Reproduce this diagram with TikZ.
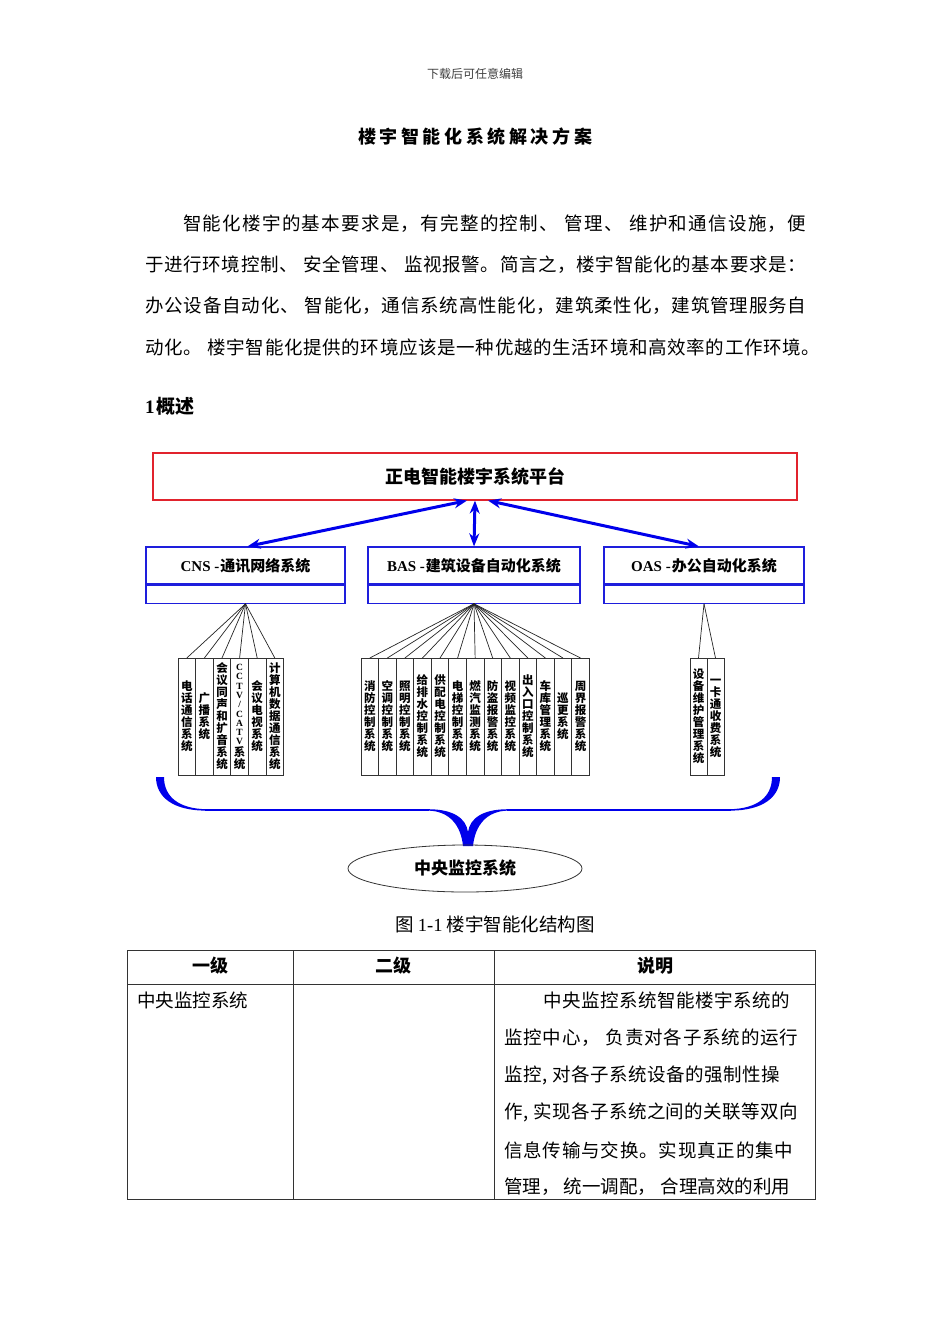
\documentclass[tikz,border=0pt]{standalone}
\usepackage{fontspec}
\setmainfont{Noto Sans CJK SC}
\newfontfamily\lat{Liberation Serif}
\usetikzlibrary{arrows.meta, positioning, shapes.geometric}

\definecolor{platred}{RGB}{225,35,45}
\definecolor{sysblue}{RGB}{30,30,220}
\definecolor{braceblue}{RGB}{0,0,235}

\newdimen\vpitch \vpitch=12pt
\ExplSyntaxOn
% characters of #2 one under the other
\NewDocumentCommand\vchars{O{}m}
  {
    \exp_args:No \tl_map_inline:nn {#2}
      {
        \hbox_to_wd:nn {12pt}
          { \hss #1 \vrule width 0pt height .85\vpitch depth .15\vpitch \relax ##1 \hss }
      }
  }
% one line of text spread to the width #1
\NewDocumentCommand\spread{mm}
  { \hbox_to_wd:nn {#1} { \tl_map_inline:nn {#2} { ##1 \hfil } \unskip } }
\ExplSyntaxOff

\begin{document}
\begin{tikzpicture}[
    x=1pt, y=-1pt,
    every node/.style={inner sep=0pt},
    body/.style={font=\fontsize{18.5}{18.5}\selectfont},
    sysbox/.style={draw=sysblue, line width=1.2pt, minimum width=199, font=\fontsize{15}{15}\selectfont\bfseries},
    colbox/.style={draw=black!80, line width=.8pt, outer sep=0pt, minimum width=17.6, minimum height=117,
                   font=\fontsize{11.5}{12}\selectfont\bfseries},
    fan/.style={draw=black!85, line width=.7pt},
    link/.style={draw=braceblue, line width=3pt, <->, >={Stealth[length=13pt,width=10pt]}},
    tabline/.style={draw=black!80, line width=.9pt}
]
   \fill[white] (0,0) rectangle (950,1344);
   \useasboundingbox (0,0) rectangle (950,1344);

   % page head and title
   \node[font=\fontsize{12}{12}\selectfont, text=black!75] (head) at (475,74) {下载后可任意编辑};
   \node[font=\fontsize{18}{18}\selectfont\bfseries] (title) at (475,137) {\spread{234pt}{楼宇智能化系统解决方案}};

   % paragraph
   \node[body, anchor=west] (l1) at (183,224) {\spread{623pt}{智能化楼宇的基本要求是，有完整的控制、~管理、~维护和通信设施，便}};
   \node[body, anchor=west] (l2) at (145,265) {\spread{661pt}{于进行环境控制、~安全管理、~监视报警。简言之，楼宇智能化的基本要求是：}};
   \node[body, anchor=west] (l3) at (145,306) {\spread{661pt}{办公设备自动化、~智能化，通信系统高性能化，建筑柔性化，建筑管理服务自}};
   \node[body, anchor=west] (l4) at (145,347) {\spread{675pt}{动化。~楼宇智能化提供的环境应该是一种优越的生活环境和高效率的工作环境。}};
   \node[font=\fontsize{19}{19}\selectfont\bfseries, anchor=west] (sec) at (145,406) {{\lat 1}\kern2pt概述};

   % platform and subsystems
   \node[draw=platred, line width=1.2pt, minimum width=644, minimum height=47,
         font=\fontsize{18}{18}\selectfont\bfseries] (plat) at (475,476.5) {正电智能楼宇系统平台};

   \node[sysbox, minimum height=37] (cns) at (245.5,565.5) {{\lat CNS -}\kern1pt通讯网络系统};
   \node[sysbox, minimum height=18, below=0pt of cns] (cnsb) {};
   \node[sysbox, minimum width=212, minimum height=37] (bas) at (474,565.5) {{\lat BAS -}\kern1pt建筑设备自动化系统};
   \node[sysbox, minimum width=212, minimum height=18, below=0pt of bas] (basb) {};
   \node[sysbox, minimum width=200, minimum height=37] (oas) at (704,565.5) {{\lat OAS -}\kern1pt办公自动化系统};
   \node[sysbox, minimum width=200, minimum height=18, below=0pt of oas] (oasb) {};

   \draw[link] ([xshift=-8]plat.south) -- ([xshift=2]cns.north);
   \draw[link] (plat.south) -- (bas.north);
   \draw[link] ([xshift=13]plat.south) -- ([xshift=-5]oas.north);

   % CNS columns
   \node[colbox] (c1) at (186.8,716.5) {\vbox{\offinterlineskip\vchars{电话通信系统}}};
   \node[colbox, right=0pt of c1] (c2) {\vbox{\offinterlineskip\vchars{广播系统}}};
   \node[colbox, right=0pt of c2] (c3) {\vbox{\offinterlineskip\vchars{会议同声和扩音系统}}};
   \node[colbox, right=0pt of c3] (c4) {\vbox{\offinterlineskip\vpitch=9.3pt\vchars[\lat\fontsize{9.5}{9.5}\selectfont]{CCTV/CATV}\vpitch=12pt\vchars{系统}}};
   \node[colbox, right=0pt of c4] (c5) {\vbox{\offinterlineskip\vchars{会议电视系统}}};
   \node[colbox, right=0pt of c5] (c6) {\vbox{\offinterlineskip\vchars{计算机数据通信系统}}};
   \foreach \i in {1,...,6}
      \draw[fan] (cnsb.south) -- (c\i.north);

   % BAS columns
   \foreach \t [count=\i] in {消防控制系统,空调控制系统,照明控制系统,给排水控制系统,供配电控制系统,
         电梯控制系统,燃汽监测系统,防盗报警系统,视频监控系统,出入口控制系统,车库管理系统,巡更系统,周界报警系统}
   {
      \node[colbox] (b\i) at ({369.8+17.56*(\i-1)},716.5) {\vbox{\offinterlineskip\vchars{\t}}};
      \draw[fan] (basb.south) -- (b\i.north);
   }

   % OAS columns
   \node[colbox, minimum width=17] (o1) at (698.5,716.5) {\vbox{\offinterlineskip\vchars{设备维护管理系统}}};
   \node[colbox, minimum width=17, right=0pt of o1] (o2) {\vbox{\offinterlineskip\vchars{一卡通收费系统}}};
   \draw[fan] (oasb.south) -- (o1.north);
   \draw[fan] (oasb.south) -- (o2.north);

   % brace, drawn as two mirrored halves
   \foreach \s in {1,-1}
   {
      \begin{scope}[shift={(468,0)}, xscale=\s]
         \fill[braceblue] (-312,777) .. controls (-312,797) and (-295,810.6) .. (-262,810.6)
            -- (-262,809.2) .. controls (-289,808.6) and (-304,797) .. (-304,777) -- cycle;
         \draw[braceblue, line width=1.3pt] (-263,809.9) -- (-39,809.9);
         \fill[braceblue] (-40,809.2) .. controls (-15,809.2) and (-2,818) .. (0,832) -- (0,846)
            -- (-5,846) .. controls (-7,826) and (-18,811) .. (-40,810.6) -- cycle;
      \end{scope}
   }

   \node[draw=black!80, line width=.8pt, ellipse, minimum width=234, minimum height=47,
         font=\fontsize{17}{17}\selectfont\bfseries] (cms) at (465,868.5) {中央监控系统};

   \node[body] (cap) at (495,924) {图 {\lat 1-1} 楼宇智能化结构图};

   % table
   \draw[tabline] (127,950) rectangle (815,1199);
   \draw[tabline] (127,984) -- (815,984);
   \draw[tabline] (293,950) -- (293,1199);
   \draw[tabline] (494,950) -- (494,1199);

   \node[font=\fontsize{18}{18}\selectfont\bfseries] (h1) at (210,966) {一级};
   \node[font=\fontsize{18}{18}\selectfont\bfseries] (h2) at (393,966) {二级};
   \node[font=\fontsize{18}{18}\selectfont\bfseries] (h3) at (655,966) {说明};

   \node[body, anchor=west] (lvl) at (137,1000) {中央监控系统};
   \node[body, anchor=west] (d1) at (543,1000) {\spread{247pt}{中央监控系统智能楼宇系统的}};
   \node[body, anchor=west] (d2) at (504,1037.5) {\spread{294pt}{监控中心，~负责对各子系统的运行}};
   \node[body, anchor=west] (d3) at (504,1075) {\spread{276pt}{监控,~对各子系统设备的强制性操}};
   \node[body, anchor=west] (d4) at (504,1112) {\spread{294pt}{作,~实现各子系统之间的关联等双向}};
   \node[body, anchor=west] (d5) at (504,1150) {\spread{289pt}{信息传输与交换。实现真正的集中}};
   \node[body, anchor=west] (d6) at (504,1187) {\spread{286pt}{管理，~统一调配，~合理高效的利用}};
\end{tikzpicture}
\end{document}
